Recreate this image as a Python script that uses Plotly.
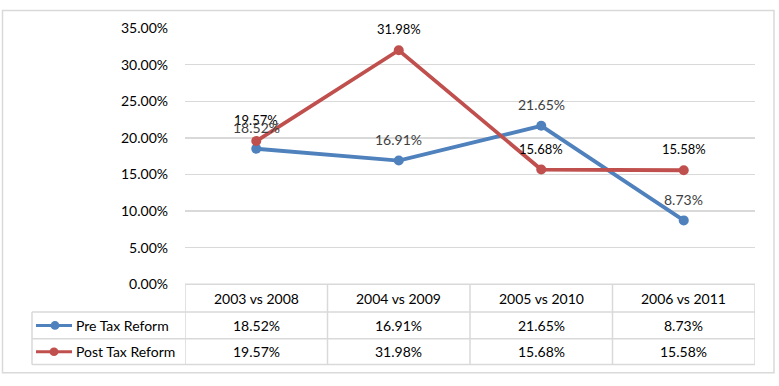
import plotly.graph_objects as go

categories = ["2003 vs 2008", "2004 vs 2009", "2005 vs 2010", "2006 vs 2011"]
series_names = ["Pre Tax Reform", "Post Tax Reform"]
pre_values = [18.52, 16.91, 21.65, 8.73]
post_values = [19.57, 31.98, 15.68, 15.58]
y_ticks = [0, 5, 10, 15, 20, 25, 30, 35]

W, H = 779, 386
colors = ["#4F81BD", "#C0504D"]
FONT = "Lato, Carlito, Calibri, sans-serif"


def px(x):
    return x / W


def py(y):
    return 1 - y / H


PLOT_L, PLOT_R, PLOT_T, PLOT_B = 185, 755, 20, 288
ROW_Y = [288, 317, 345, 372]
TABLE_L = 32

fig = go.Figure()
xs = list(range(len(categories)))
all_vals = [pre_values, post_values]

for name, vals, col in zip(series_names, all_vals, colors):
    fig.add_trace(go.Scatter(
        x=xs, y=vals, name=name, mode="lines+markers",
        line=dict(color=col, width=3.8),
        marker=dict(color=col, size=10),
        showlegend=False, hoverinfo="skip",
    ))

annotations = []
# data labels (post first so pre overlaps on top, as in reference)
for i, v in enumerate(post_values):
    annotations.append(dict(x=xs[i], y=v, xref="x", yref="y", text=f"{v:.2f}%",
                            showarrow=False, yshift=21, yanchor="middle",
                            font=dict(family=FONT, size=13, color="#000000")))
for i, v in enumerate(pre_values):
    annotations.append(dict(x=xs[i], y=v, xref="x", yref="y", text=f"{v:.2f}%",
                            showarrow=False, yshift=21, yanchor="middle",
                            font=dict(family=FONT, size=14, color="#404040")))

# table header
for i, c in enumerate(categories):
    annotations.append(dict(x=xs[i], y=py((ROW_Y[0] + ROW_Y[1]) / 2), xref="x", yref="paper",
                            text=c, showarrow=False, yanchor="middle",
                            font=dict(family=FONT, size=14, color="#000000")))
# table rows
for r, (name, vals, col) in enumerate(zip(series_names, all_vals, colors)):
    yc = (ROW_Y[r + 1] + ROW_Y[r + 2]) / 2
    for i, v in enumerate(vals):
        annotations.append(dict(x=xs[i], y=py(yc), xref="x", yref="paper",
                                text=f"{v:.2f}%", showarrow=False, yanchor="middle",
                                font=dict(family=FONT, size=14, color="#000000")))
    annotations.append(dict(x=px(74), y=py(yc), xref="paper", yref="paper",
                            text=name, showarrow=False, xanchor="left", yanchor="middle",
                            font=dict(family=FONT, size=14, color="#000000")))

shapes = []
grid = "#D9D9D9"
# outer border
shapes.append(dict(type="rect", xref="paper", yref="paper", x0=px(2.5), x1=px(774), y0=py(1.5), y1=py(380.5),
                   line=dict(color=grid, width=1.5)))
# table horizontal lines
shapes.append(dict(type="line", xref="paper", yref="paper", x0=px(PLOT_L), x1=px(PLOT_R),
                   y0=py(ROW_Y[0]), y1=py(ROW_Y[0]), line=dict(color=grid, width=1.5)))
for yy in ROW_Y[1:]:
    shapes.append(dict(type="line", xref="paper", yref="paper", x0=px(TABLE_L), x1=px(PLOT_R),
                       y0=py(yy), y1=py(yy), line=dict(color=grid, width=1.5)))
# table vertical lines (category boundaries through x-axis scale)
for b in [-0.5, 0.5, 1.5, 2.5, 3.5]:
    shapes.append(dict(type="line", xref="x", yref="paper", x0=b, x1=b,
                       y0=py(ROW_Y[0]), y1=py(ROW_Y[-1]), line=dict(color=grid, width=1.5)))
shapes.append(dict(type="line", xref="paper", yref="paper", x0=px(TABLE_L), x1=px(TABLE_L),
                   y0=py(ROW_Y[1]), y1=py(ROW_Y[-1]), line=dict(color=grid, width=1.5)))
# legend keys
for r, col in enumerate(colors):
    yc = (ROW_Y[r + 1] + ROW_Y[r + 2]) / 2
    shapes.append(dict(type="line", xref="paper", yref="paper", x0=px(36), x1=px(72),
                       y0=py(yc), y1=py(yc), line=dict(color=col, width=3)))
    cx = 55 if r == 0 else 54
    shapes.append(dict(type="circle", xref="paper", yref="paper", x0=px(cx - 4.5), x1=px(cx + 4.5),
                       y0=py(yc - 4.5), y1=py(yc + 4.5), fillcolor=col, line=dict(color=col, width=0)))

fig.update_layout(
    width=W, height=H,
    margin=dict(l=0, r=0, t=0, b=0),
    paper_bgcolor="white", plot_bgcolor="white",
    font=dict(family=FONT, size=14, color="#000000"),
    xaxis=dict(domain=[px(PLOT_L), px(PLOT_R)], range=[-0.5, 3.5], showticklabels=False,
               showgrid=False, zeroline=False, showline=False, fixedrange=True),
    yaxis=dict(domain=[py(PLOT_B), py(PLOT_T)], range=[0, 35], tickvals=y_ticks,
               ticktext=[f"{t:.2f}%" for t in y_ticks],
               showgrid=True, gridcolor=grid, gridwidth=1.5, zeroline=False, showline=False,
               ticks="", ticklabelstandoff=16, fixedrange=True,
               tickfont=dict(family=FONT, size=14, color="#000000")),
    annotations=annotations,
    shapes=shapes,
)

fig.write_html("out.html", config={"displayModeBar": False, "staticPlot": True},
               post_script="document.body.style.margin='0';document.body.style.padding='0';")
